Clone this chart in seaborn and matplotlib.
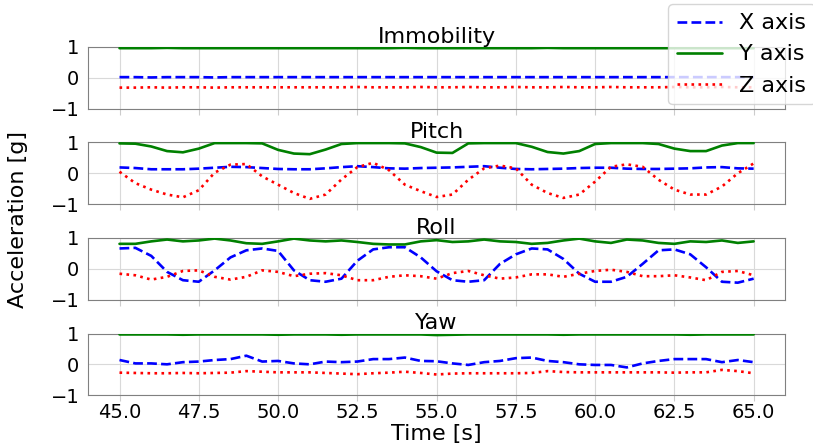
import numpy as np
import pandas as pd
import matplotlib
matplotlib.use("Agg")
import matplotlib.pyplot as plt
import seaborn as sns

# tempo (s), amostras a cada 0.5 s
tempo = np.arange(45.0, 65.01, 0.5)

titulos = ["Immobility", "Pitch", "Roll", "Yaw"]
nomes_eixos = ["X axis", "Y axis", "Z axis"]

# Immobility
imob_x = [0.02, 0.02, 0.01, 0.02, 0.02, 0.02, 0.01, 0.02, 0.02, 0.02, 0.02,
          0.02, 0.02, 0.02, 0.02, 0.02, 0.02, 0.02, 0.02, 0.02, 0.02, 0.02,
          0.02, 0.02, 0.02, 0.02, 0.02, 0.02, 0.02, 0.02, 0.02, 0.02, 0.02,
          0.02, 0.02, 0.02, 0.02, 0.02, 0.02, 0.02, 0.02]
imob_y = [0.96, 0.96, 0.96, 0.97, 0.96, 0.96, 0.96, 0.96, 0.96, 0.96, 0.96,
          0.96, 0.96, 0.96, 0.96, 0.96, 0.96, 0.96, 0.97, 0.96, 0.96, 0.96,
          0.96, 0.96, 0.96, 0.96, 0.96, 0.97, 0.96, 0.96, 0.96, 0.96, 0.96,
          0.96, 0.96, 0.96, 0.96, 0.96, 0.96, 0.96, 0.96]
imob_z = [-0.32, -0.32, -0.31, -0.32, -0.31, -0.31, -0.32, -0.31, -0.31, -0.31, -0.31,
          -0.31, -0.31, -0.31, -0.31, -0.30, -0.31, -0.31, -0.31, -0.30, -0.31, -0.31,
          -0.30, -0.31, -0.31, -0.30, -0.31, -0.31, -0.30, -0.31, -0.31, -0.30, -0.31,
          -0.31, -0.31, -0.30, -0.31, -0.31, -0.30, -0.31, -0.31]

# Pitch
pitch_x = [0.19, 0.17, 0.13, 0.13, 0.13, 0.15, 0.18, 0.21, 0.20, 0.17, 0.14,
           0.13, 0.13, 0.16, 0.20, 0.23, 0.20, 0.16, 0.15, 0.17, 0.18, 0.19,
           0.21, 0.23, 0.18, 0.14, 0.13, 0.14, 0.15, 0.17, 0.18, 0.18, 0.15,
           0.14, 0.14, 0.15, 0.16, 0.19, 0.20, 0.16, 0.15]
pitch_y = [0.97, 0.96, 0.87, 0.72, 0.68, 0.80, 0.98, 0.98, 0.98, 0.97, 0.76,
           0.64, 0.62, 0.77, 0.95, 0.98, 0.98, 0.98, 0.97, 0.85, 0.67, 0.66,
           0.97, 0.98, 0.98, 0.98, 0.86, 0.69, 0.64, 0.72, 0.95, 0.98, 0.98,
           0.98, 0.95, 0.80, 0.72, 0.72, 0.90, 0.98, 0.98]
pitch_z = [0.05, -0.32, -0.53, -0.69, -0.78, -0.55, 0.02, 0.28, 0.30, -0.10, -0.37,
           -0.64, -0.83, -0.69, -0.20, 0.20, 0.34, 0.10, -0.37, -0.58, -0.77, -0.69,
           -0.21, 0.16, 0.25, 0.16, -0.37, -0.64, -0.80, -0.69, -0.27, 0.21, 0.29,
           0.21, -0.21, -0.53, -0.69, -0.69, -0.43, 0.00, 0.32]

# Roll
roll_x = [0.66, 0.68, 0.42, -0.10, -0.37, -0.42, -0.05, 0.37, 0.60, 0.66, 0.58,
          -0.05, -0.37, -0.42, -0.32, 0.26, 0.63, 0.70, 0.70, 0.37, -0.08, -0.37,
          -0.42, -0.37, 0.16, 0.47, 0.66, 0.63, 0.32, -0.16, -0.42, -0.42, -0.26,
          0.16, 0.60, 0.63, 0.47, 0.05, -0.42, -0.45, -0.32]
roll_y = [0.81, 0.81, 0.89, 0.95, 0.89, 0.92, 0.98, 0.92, 0.83, 0.81, 0.89,
          0.98, 0.92, 0.89, 0.92, 0.87, 0.81, 0.79, 0.79, 0.89, 0.93, 0.87,
          0.89, 0.95, 0.89, 0.87, 0.81, 0.84, 0.92, 0.98, 0.89, 0.84, 0.95,
          0.92, 0.84, 0.81, 0.89, 0.87, 0.92, 0.84, 0.89]
roll_z = [-0.16, -0.21, -0.35, -0.26, -0.07, -0.05, -0.26, -0.35, -0.26, -0.05, -0.10,
          -0.24, -0.16, -0.14, -0.21, -0.37, -0.37, -0.26, -0.21, -0.24, -0.32, -0.14,
          -0.07, -0.21, -0.32, -0.28, -0.18, -0.18, -0.26, -0.16, -0.07, -0.03, -0.10,
          -0.24, -0.24, -0.21, -0.28, -0.37, -0.10, -0.07, -0.21]

# Yaw
yaw_x = [0.14, 0.03, 0.03, 0.00, 0.07, 0.09, 0.14, 0.17, 0.28, 0.09, 0.11,
         0.03, 0.00, 0.09, 0.07, 0.09, 0.17, 0.17, 0.22, 0.11, 0.10, 0.03,
         -0.02, 0.07, 0.11, 0.20, 0.22, 0.11, 0.07, 0.00, -0.02, -0.02, -0.10,
         0.03, 0.11, 0.17, 0.17, 0.17, 0.07, 0.14, 0.07]
yaw_y = [0.97, 0.97, 0.97, 0.97, 0.96, 0.97, 0.97, 0.97, 0.97, 0.97, 0.96,
         0.97, 0.97, 0.97, 0.96, 0.97, 0.97, 0.97, 0.97, 0.97, 0.95, 0.96,
         0.97, 0.97, 0.97, 0.97, 0.97, 0.97, 0.96, 0.97, 0.97, 0.97, 0.97,
         0.97, 0.97, 0.97, 0.96, 0.97, 0.97, 0.97, 0.97]
yaw_z = [-0.27, -0.28, -0.29, -0.29, -0.28, -0.29, -0.28, -0.27, -0.22, -0.24, -0.26,
         -0.26, -0.26, -0.28, -0.30, -0.32, -0.29, -0.27, -0.24, -0.28, -0.33, -0.30,
         -0.29, -0.29, -0.29, -0.29, -0.28, -0.22, -0.25, -0.26, -0.26, -0.26, -0.26,
         -0.26, -0.26, -0.27, -0.26, -0.26, -0.18, -0.22, -0.29]

sinais = [(imob_x, imob_y, imob_z),
          (pitch_x, pitch_y, pitch_z),
          (roll_x, roll_y, roll_z),
          (yaw_x, yaw_y, yaw_z)]

cores = ["blue", "green", "red"]
estilos = ["--", "-", ":"]

sns.set_style("whitegrid")
plt.rcParams['font.family'] = ['DejaVu Sans']
plt.rcParams['axes.edgecolor'] = '#808080'
plt.rcParams['text.color'] = 'black'
plt.rcParams['axes.labelcolor'] = 'black'
plt.rcParams['xtick.labelcolor'] = 'black'
plt.rcParams['ytick.labelcolor'] = 'black'

fig, axes = plt.subplots(4, 1, figsize=(8.13, 4.47), dpi=100, sharex=True)
fig.subplots_adjust(left=0.108, right=0.966, top=0.895, bottom=0.116, hspace=0.55)

for ax, titulo, serie in zip(axes, titulos, sinais):
    for vals, cor, ls, nome in zip(serie, cores, estilos, nomes_eixos):
        sns.lineplot(x=tempo, y=vals, ax=ax, color=cor, linestyle=ls,
                     linewidth=1.9, label=nome, legend=False, zorder=3)
    ax.set_title(titulo, fontsize=16, pad=3, color='black')
    ax.set_ylim(-1, 1)
    ax.set_yticks([-1, 0, 1])
    ax.set_xticks([45.0, 47.5, 50.0, 52.5, 55.0, 57.5, 60.0, 62.5, 65.0])
    ax.tick_params(axis='both', labelsize=14, length=4, color='#cccccc',
                   bottom=True, pad=2)
    ax.set_ylabel("")
    ax.grid(True, color='#d9d9d9', linewidth=0.8)

axes[-1].set_xticklabels(["45.0", "47.5", "50.0", "52.5", "55.0",
                          "57.5", "60.0", "62.5", "65.0"])
axes[-1].set_xlabel("Time [s]", fontsize=16, labelpad=1, color='black')

fig.text(0.022, 0.51, "Acceleration [g]", rotation=90, fontsize=16,
         ha='center', va='center', color='black')

handles, labels = axes[0].get_legend_handles_labels()
fig.legend(handles, labels, loc='upper left', bbox_to_anchor=(0.822, 0.99),
           fontsize=16, frameon=True, framealpha=0.8, borderaxespad=0,
           handlelength=2.0)

fig.savefig("out.png", dpi=100)
